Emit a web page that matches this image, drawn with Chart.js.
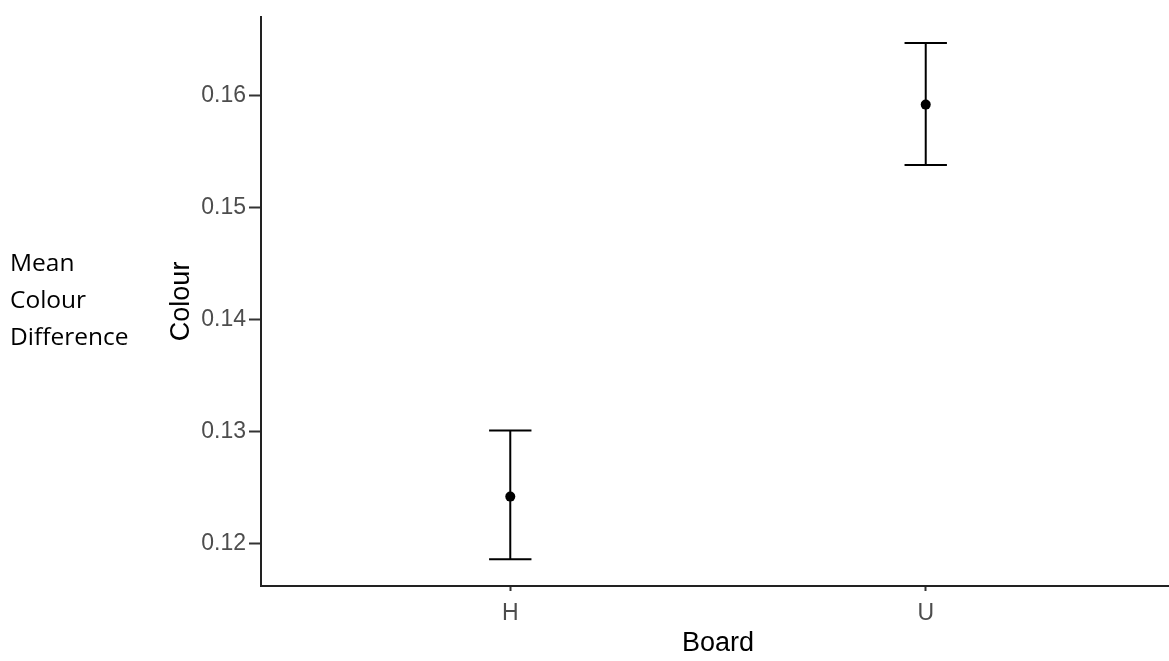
<!DOCTYPE html>
<html>
<head>
<meta charset="utf-8">
<script src="https://cdn.jsdelivr.net/npm/chart.js@4/dist/chart.umd.min.js"></script>
<style>
  html, body { margin: 0; padding: 0; background: #fff; overflow: hidden; }
  #wrap { position: relative; width: 1169px; height: 661px; overflow: hidden; }
  #chart { position: absolute; left: 0; top: 0; }
  #side {
    position: absolute; left: 10px; top: 243px;
    font-family: "Open Sans", "Noto Sans", sans-serif; font-size: 24.5px; line-height: 37px; color: #000;
  }
</style>
</head>
<body>
<div id="wrap">
  <canvas id="chart" width="1180" height="661"></canvas>
  <div id="side">Mean<br>Colour<br>Difference</div>
</div>
<script>
// data
const categories = ["H", "U"];
const means = [0.1242, 0.1592];
const lower = [0.1186, 0.1538];
const upper = [0.1301, 0.1647];
const yTicks = [0.12, 0.13, 0.14, 0.15, 0.16];

const capHalf = 0.051; // half cap width, in category units

const errorBars = {
  id: "errorBars",
  beforeDatasetsDraw(chart) {
    const ctx = chart.ctx;
    const x = chart.scales.x, y = chart.scales.y;
    ctx.save();
    ctx.strokeStyle = "#000";
    ctx.lineWidth = 2;
    categories.forEach((c, i) => {
      const px = x.getPixelForValue(i + 1);
      const yl = y.getPixelForValue(lower[i]);
      const yu = y.getPixelForValue(upper[i]);
      const xl = x.getPixelForValue(i + 1 - capHalf);
      const xr = x.getPixelForValue(i + 1 + capHalf);
      ctx.beginPath();
      ctx.moveTo(px, yl); ctx.lineTo(px, yu);
      ctx.moveTo(xl, yl); ctx.lineTo(xr, yl);
      ctx.moveTo(xl, yu); ctx.lineTo(xr, yu);
      ctx.stroke();
    });
    ctx.restore();
  }
};

const font = "'Liberation Sans', Arial, sans-serif";

new Chart(document.getElementById("chart"), {
  type: "scatter",
  data: {
    datasets: [{
      data: means.map((m, i) => ({ x: i + 1, y: m })),
      pointRadius: 5,
      pointBackgroundColor: "#000",
      pointBorderColor: "#000",
      pointBorderWidth: 0
    }]
  },
  options: {
    responsive: false,
    animation: false,
    layout: { padding: { left: 165, top: 12, right: 0, bottom: 0 } },
    plugins: { legend: { display: false }, tooltip: { enabled: false } },
    scales: {
      x: {
        type: "linear",
        min: 0.4,
        max: 2.6,
        afterBuildTicks: (s) => { s.ticks = categories.map((c, i) => ({ value: i + 1 })); },
        afterFit: (s) => { s.height = 75; },
        ticks: {
          callback: (v) => categories[v - 1],
          color: "#4d4d4d",
          font: { family: font, size: 23 },
          padding: 9
        },
        grid: { drawOnChartArea: false, tickLength: 5, tickColor: "#333", tickWidth: 2 },
        border: { color: "#222", width: 2 },
        title: { display: true, text: "Board", color: "#000", font: { family: font, size: 27 }, padding: { top: 0, bottom: 1 } }
      },
      y: {
        min: 0.11622,
        max: 0.16704,
        afterBuildTicks: (s) => { s.ticks = yTicks.map((v) => ({ value: v })); },
        afterFit: (s) => { s.width = 96; },
        ticks: {
          callback: (v) => v.toFixed(2),
          color: "#4d4d4d",
          font: { family: font, size: 23 },
          padding: 3
        },
        grid: { drawOnChartArea: false, tickLength: 12, tickColor: "#333", tickWidth: 2 },
        border: { color: "#222", width: 2 },
        title: { display: true, text: "Colour", color: "#000", font: { family: font, size: 27 }, padding: 0 }
      }
    }
  },
  plugins: [errorBars]
});
</script>
</body>
</html>
